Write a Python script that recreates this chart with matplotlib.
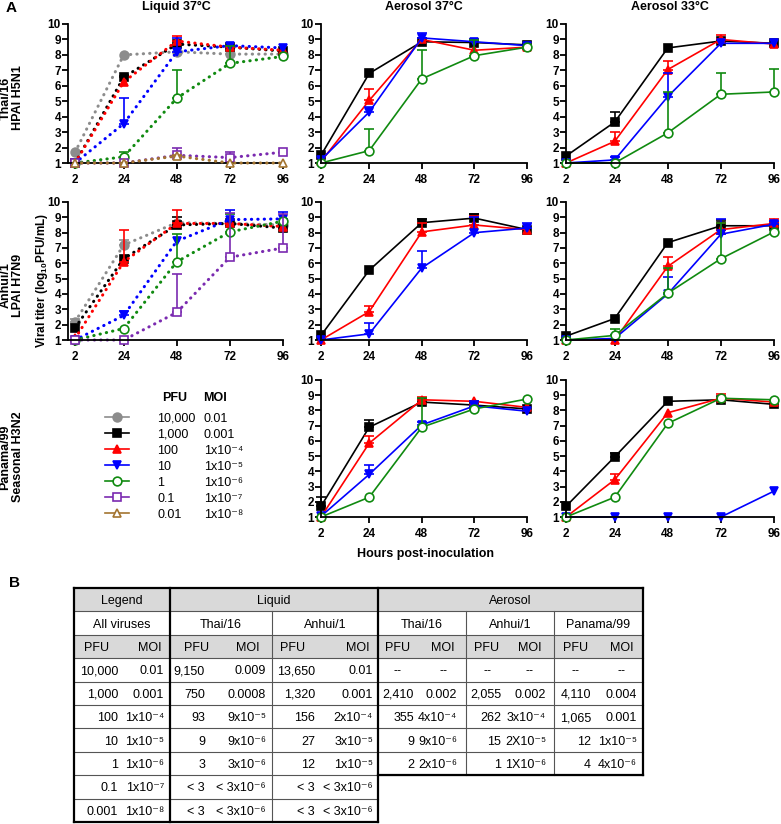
import numpy as np
import matplotlib
matplotlib.use('Agg')
import matplotlib.pyplot as plt
from matplotlib.patches import Rectangle

plt.rcParams['font.family'] = ['Liberation Sans', 'DejaVu Sans']
plt.rcParams['mathtext.fontset'] = 'custom'
plt.rcParams['mathtext.rm'] = 'Liberation Sans'
plt.rcParams['mathtext.bf'] = 'Liberation Sans:bold'
plt.rcParams['mathtext.it'] = 'Liberation Sans:italic'

# ---- data ----
hours = [2, 24, 48, 72, 96]
pfu = ['10,000', '1,000', '100', '10', '1', '0.1', '0.01']
moi = ['0.01', '0.001', '1x10⁻⁴', '1x10⁻⁵', '1x10⁻⁶', '1x10⁻⁷', '1x10⁻⁸']
colors = ['#8c8c8c', '#000000', '#ff0000', '#0000ff', '#108a10', '#7a2ab0', '#a37430']
markers = ['o', 's', '^', 'v', 'o', 's', '^']
filled = [True, True, True, True, False, False, False]

# mean titers (log10 PFU/mL), one row per inoculum dose, None = not tested
thai_liquid = [
    [1.7, 8.0, 8.2, 8.05, 8.05],
    [1.0, 6.55, 8.7, 8.5, 8.25],
    [1.0, 6.25, 8.9, 8.5, 8.3],
    [1.0, 3.55, 8.2, 8.6, 8.45],
    [1.0, 1.4, 5.2, 7.45, 7.9],
    [1.0, 1.0, 1.5, 1.35, 1.7],
    [1.0, 1.0, 1.45, 1.0, 1.0],
]
thai_liquid_sd = [
    [0, 0, 0, 0, 0],
    [0, 0.1, 0, 0, 0],
    [0, 0, 0.3, 0, 0],
    [0, 1.65, 0.9, 0, 0],
    [0, 0.3, 1.8, 1.15, 0],
    [0, 0, 0.5, 0.35, 0],
    [0, 0, 0.1, 0, 0],
]
anhui_liquid = [
    [2.2, 7.2, 8.65, 8.6, 8.5],
    [1.8, 6.3, 8.5, 8.6, 8.3],
    [1.1, 6.1, 8.6, 8.6, 8.4],
    [1.0, 2.6, 7.45, 8.85, 8.9],
    [1.0, 1.75, 6.1, 8.05, 8.75],
    [1.0, 1.0, 2.8, 6.4, 7.0],
    None,
]
anhui_liquid_sd = [
    [0.2, 0.3, 0, 0, 0],
    [0, 0, 0.5, 0, 0],
    [0, 2.1, 0.9, 0, 0],
    [0, 0.3, 0, 0.6, 0.45],
    [0, 0, 1.8, 1.15, 0],
    [0, 0, 2.5, 2.9, 2.2],
    None,
]
thai_aer37 = [None,
    [1.5, 6.8, 8.85, 8.8, 8.65],
    [1.1, 5.05, 9.0, 8.3, 8.5],
    [1.2, 4.3, 9.1, 8.85, 8.6],
    [1.0, 1.8, 6.45, 7.95, 8.5],
    None, None]
thai_aer37_sd = [None,
    [0, 0, 0, 0, 0],
    [0, 0.75, 0, 0, 0],
    [0, 0.3, 0.3, 0, 0],
    [0, 1.4, 1.85, 1.0, 0],
    None, None]
thai_aer33 = [None,
    [1.45, 3.65, 8.45, 8.9, 8.75],
    [1.0, 2.4, 7.05, 9.0, 8.7],
    [1.0, 1.2, 5.3, 8.75, 8.75],
    [1.0, 1.0, 2.95, 5.45, 5.6],
    None, None]
thai_aer33_sd = [None,
    [0, 0.65, 0, 0, 0],
    [0, 0.6, 0.55, 0.3, 0],
    [0, 0.2, 1.5, 0, 0],
    [0, 0, 2.65, 1.4, 1.5],
    None, None]
anhui_aer37 = [None,
    [1.3, 5.55, 8.65, 8.95, 8.2],
    [1.0, 2.85, 8.05, 8.5, 8.2],
    [1.0, 1.4, 5.7, 8.0, 8.3],
    None, None, None]
anhui_aer37_sd = [None,
    [0, 0, 0.25, 0.25, 0],
    [0, 0.35, 0.55, 0.6, 0],
    [0, 0.7, 1.1, 1.0, 0.3],
    None, None, None]
anhui_aer33 = [None,
    [1.25, 2.4, 7.35, 8.45, 8.45],
    [1.0, 1.0, 5.8, 8.2, 8.6],
    [1.0, 1.1, 4.0, 7.9, 8.55],
    [1.0, 1.3, 4.05, 6.3, 8.05],
    None, None]
anhui_aer33_sd = [None,
    [0, 0, 0, 0.35, 0],
    [0, 0, 0.6, 0.4, 0.3],
    [0, 0, 1.1, 1.0, 0.2],
    [0, 0.4, 1.65, 2.3, 0],
    None, None]
panama_aer37 = [None,
    [1.7, 6.9, 8.55, 8.35, 8.1],
    [1.0, 5.85, 8.7, 8.6, 8.2],
    [1.05, 3.8, 7.05, 8.3, 7.95],
    [1.0, 2.3, 6.9, 8.1, 8.75],
    None, None]
panama_aer37_sd = [None,
    [0.6, 0.5, 0, 0, 0],
    [0, 0.45, 0.2, 0, 0],
    [0, 0.6, 0.2, 0.3, 0],
    [0, 0, 1.9, 0, 0],
    None, None]
panama_aer33 = [None,
    [1.7, 4.95, 8.6, 8.7, 8.4],
    [1.0, 3.45, 7.85, 8.8, 8.55],
    [1.0, 1.0, 1.0, 1.0, 2.7],
    [1.0, 2.3, 7.15, 8.8, 8.7],
    None, None]
panama_aer33_sd = [None,
    [0, 0.25, 0, 0, 0],
    [0, 0.35, 0, 0.3, 0],
    [0, 0, 0, 0, 0],
    [0, 0, 0, 0, 0],
    None, None]

# table (panel B)
legend_pfu = ['10,000', '1,000', '100', '10', '1', '0.1', '0.001']
legend_moi = ['0.01', '0.001', '1x10⁻⁴', '1x10⁻⁵', '1x10⁻⁶', '1x10⁻⁷', '1x10⁻⁸']
thai_liq_pfu = ['9,150', '750', '93', '9', '3', '< 3', '< 3']
thai_liq_moi = ['0.009', '0.0008', '9x10⁻⁵', '9x10⁻⁶', '3x10⁻⁶', '< 3x10⁻⁶', '< 3x10⁻⁶']
anhui_liq_pfu = ['13,650', '1,320', '156', '27', '12', '< 3', '< 3']
anhui_liq_moi = ['0.01', '0.001', '2x10⁻⁴', '3x10⁻⁵', '1x10⁻⁵', '< 3x10⁻⁶', '< 3x10⁻⁶']
thai_aer_pfu = ['--', '2,410', '355', '9', '2']
thai_aer_moi = ['--', '0.002', '4x10⁻⁴', '9x10⁻⁶', '2x10⁻⁶']
anhui_aer_pfu = ['--', '2,055', '262', '15', '1']
anhui_aer_moi = ['--', '0.002', '3x10⁻⁴', '2X10⁻⁵', '1X10⁻⁶']
panama_aer_pfu = ['--', '4,110', '1,065', '12', '4']
panama_aer_moi = ['--', '0.004', '0.001', '1x10⁻⁵', '4x10⁻⁶']
group_names = ['All viruses', 'Thai/16', 'Anhui/1', 'Thai/16', 'Anhui/1', 'Panama/99']

W, H = 781, 824
fig = plt.figure(figsize=(W / 100, H / 100), dpi=100)


def px_axes(left, top, right, bottom):
    return fig.add_axes([left / W, 1 - bottom / H, (right - left) / W, (bottom - top) / H])


def style(ax, xmin):
    ax.set_xlim(xmin, 96)
    ax.set_ylim(1, 10)
    ax.set_xticks(hours)
    ax.set_yticks(range(1, 11))
    ax.spines['top'].set_visible(False)
    ax.spines['right'].set_visible(False)
    ax.spines['left'].set_linewidth(1.3)
    ax.spines['bottom'].set_linewidth(1.3)
    ax.tick_params(axis='x', length=4.3, width=1.3, pad=3.5, labelsize=8.5)
    ax.tick_params(axis='y', length=4.3, width=1.3, pad=0.8, labelsize=8.5)
    plt.setp(ax.get_xticklabels(), fontweight='bold')
    plt.setp(ax.get_yticklabels(), fontweight='bold')
    ax.patch.set_visible(False)


def draw(ax, values, sds, liquid):
    for i, vals in enumerate(values):
        if vals is None:
            continue
        sd = np.array(sds[i], dtype=float)
        keep = sd > 0
        if keep.any():
            x = np.array(hours)[keep]
            y = np.array(vals)[keep]
            ax.errorbar(x, y, yerr=[np.zeros(keep.sum()), sd[keep]], fmt='none',
                        ecolor=colors[i], elinewidth=1.2, capsize=3.5, capthick=1.2,
                        clip_on=False, zorder=2 + i * 0.1)
        ls = (0, (0.1, 2.0)) if liquid else '-'
        lw = 2.2 if liquid else 1.2
        ax.plot(hours, vals, color=colors[i], linestyle=ls, lw=lw,
                dash_capstyle='round', marker=markers[i], ms=6.3,
                mfc=colors[i] if filled[i] else 'white', mec=colors[i], mew=1.2,
                clip_on=False, zorder=2 + i * 0.1)


rows = [(24, 163), (202, 340), (380, 517)]
cols = [(68, 283, -1.2), (321, 527, 2), (566, 774, 2)]
panels = [
    [(thai_liquid, thai_liquid_sd), (thai_aer37, thai_aer37_sd), (thai_aer33, thai_aer33_sd)],
    [(anhui_liquid, anhui_liquid_sd), (anhui_aer37, anhui_aer37_sd), (anhui_aer33, anhui_aer33_sd)],
    [None, (panama_aer37, panama_aer37_sd), (panama_aer33, panama_aer33_sd)],
]
for r, (top, bottom) in enumerate(rows):
    for c, (left, right, xmin) in enumerate(cols):
        if panels[r][c] is None:
            continue
        ax = px_axes(left, top, right, bottom)
        style(ax, xmin)
        draw(ax, panels[r][c][0], panels[r][c][1], liquid=(c == 0))

# titles and labels
def ftext(x, y, s, **kw):
    fig.text(x / W, 1 - y / H, s, **kw)

ftext(176, 7, 'Liquid 37°C', ha='center', va='center', fontsize=9, fontweight='bold')
ftext(424, 7, 'Aerosol 37°C', ha='center', va='center', fontsize=9, fontweight='bold')
ftext(670, 7, 'Aerosol 33°C', ha='center', va='center', fontsize=9, fontweight='bold')
ftext(425, 554, 'Hours post-inoculation', ha='center', va='center', fontsize=9, fontweight='bold')
ftext(42, 280, r'Viral titer (log$_{\mathbf{10}}$PFU/mL)', ha='center', va='center',
      rotation=90, fontsize=8.5, fontweight='bold')
ftext(12, 98, 'Thai/16\nHPAI H5N1', ha='center', va='center', rotation=90,
      fontsize=9, fontweight='bold', multialignment='center', linespacing=1.1)
ftext(12, 285, 'Anhui/1\nLPAI H7N9', ha='center', va='center', rotation=90,
      fontsize=9, fontweight='bold', multialignment='center', linespacing=1.1)
ftext(12, 457, 'Panama/99\nSeasonal H3N2', ha='center', va='center', rotation=90,
      fontsize=9, fontweight='bold', multialignment='center', linespacing=1.1)
ftext(11, 8, 'A', ha='center', va='center', fontsize=11, fontweight='bold')
ftext(15, 583, 'B', ha='center', va='center', fontsize=11, fontweight='bold')

# legend (row 3, left)
leg = px_axes(0, 390, 270, 525)
leg.set_xlim(0, 270)
leg.set_ylim(6.75, -1.6875)
leg.axis('off')
leg.text(175, -1.19, 'PFU', ha='center', va='center', fontsize=9, fontweight='bold')
leg.text(215, -1.19, 'MOI', ha='center', va='center', fontsize=9, fontweight='bold')
for i in range(len(pfu)):
    leg.plot([105, 129], [i, i], color=colors[i], lw=1.2)
    leg.plot([117], [i], color=colors[i], marker=markers[i], ms=6.3,
             mfc=colors[i] if filled[i] else 'white', mec=colors[i], mew=1.2)
    leg.text(157, i, pfu[i], ha='left', va='center_baseline', fontsize=9)
    leg.text(204, i, moi[i], ha='left', va='center_baseline', fontsize=9)

# table (panel B)
tab = fig.add_axes([0, 0, 1, 1])
tab.set_xlim(0, W)
tab.set_ylim(H, 0)
tab.axis('off')

gx = [74, 170, 272, 378, 466, 554, 643]
pfu_hdr = [97, 197, 293, 398, 487, 576]
moi_hdr = [150, 248, 358, 443, 530, 622]
pfu_right = [118, 205, 315, 414, 501, 591]
moi_right = [164, 266, 373, 457, 546, 637]
t0, rh = 588, 23.4
ry = [t0 + rh * k for k in range(11)]
grey = '#d9d9d9'
tfs = 9

for k in (0, 2):
    tab.add_patch(Rectangle((gx[0], ry[k]), gx[-1] - gx[0], rh, color=grey, lw=0))

tab.text((gx[0] + gx[1]) / 2, ry[0] + rh / 2, 'Legend', ha='center', va='center_baseline', fontsize=tfs)
tab.text((gx[1] + gx[3]) / 2, ry[0] + rh / 2, 'Liquid', ha='center', va='center_baseline', fontsize=tfs)
tab.text((gx[3] + gx[6]) / 2, ry[0] + rh / 2, 'Aerosol', ha='center', va='center_baseline', fontsize=tfs)
for g, name in enumerate(group_names):
    tab.text((gx[g] + gx[g + 1]) / 2, ry[1] + rh / 2, name, ha='center', va='center_baseline', fontsize=tfs)
    tab.text(pfu_hdr[g], ry[2] + rh / 2, 'PFU', ha='center', va='center_baseline', fontsize=tfs)
    tab.text(moi_hdr[g], ry[2] + rh / 2, 'MOI', ha='center', va='center_baseline', fontsize=tfs)

table_cols = [(legend_pfu, legend_moi), (thai_liq_pfu, thai_liq_moi), (anhui_liq_pfu, anhui_liq_moi),
              (thai_aer_pfu, thai_aer_moi), (anhui_aer_pfu, anhui_aer_moi), (panama_aer_pfu, panama_aer_moi)]
for g, (pcol, mcol) in enumerate(table_cols):
    for k, (p, m) in enumerate(zip(pcol, mcol)):
        yc = ry[3 + k] + rh / 2
        if p == '--':
            tab.text(pfu_hdr[g], yc, p, ha='center', va='center_baseline', fontsize=tfs)
            tab.text(moi_hdr[g], yc, m, ha='center', va='center_baseline', fontsize=tfs)
        else:
            tab.text(pfu_right[g], yc, p, ha='right', va='center_baseline', fontsize=tfs)
            tab.text(moi_right[g], yc, m, ha='right', va='center_baseline', fontsize=tfs)

# thin row lines
for k in range(1, 10):
    right = gx[6] if k <= 8 else gx[3]
    tab.plot([gx[0], right], [ry[k], ry[k]], color='#555555', lw=0.8)
# thin verticals inside groups
tab.plot([gx[2], gx[2]], [ry[1], ry[10]], color='#555555', lw=0.8)
for xg in (gx[4], gx[5]):
    tab.plot([xg, xg], [ry[1], ry[8]], color='#555555', lw=0.8)
# thick borders
bk = dict(color='black', lw=1.6, solid_capstyle='projecting')
tab.plot([gx[0], gx[6]], [ry[0], ry[0]], **bk)
tab.plot([gx[0], gx[0]], [ry[0], ry[10]], **bk)
tab.plot([gx[0], gx[3]], [ry[10], ry[10]], **bk)
tab.plot([gx[1], gx[1]], [ry[0], ry[10]], **bk)
tab.plot([gx[3], gx[3]], [ry[0], ry[10]], **bk)
tab.plot([gx[3], gx[6]], [ry[8], ry[8]], **bk)
tab.plot([gx[6], gx[6]], [ry[0], ry[8]], **bk)

fig.savefig('out.png', dpi=100)
